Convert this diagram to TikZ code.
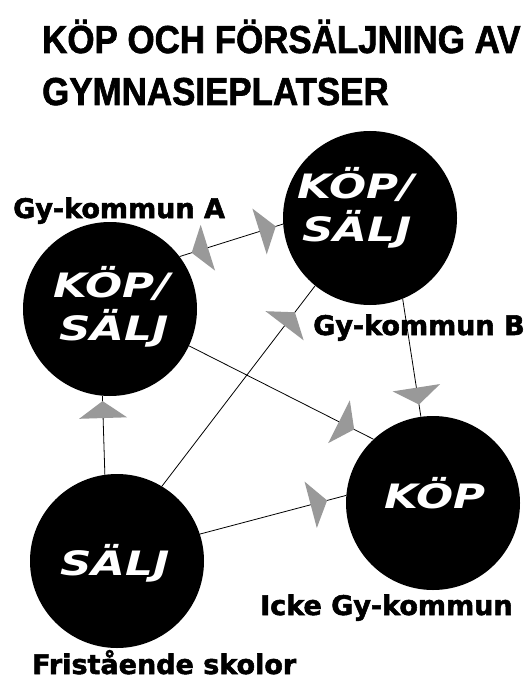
\documentclass[tikz,border=0pt]{standalone}
\usepackage{fontspec}
\usetikzlibrary{arrows.meta,decorations.markings}
\newfontfamily\titlefont{Liberation Sans}[FakeStretch=0.895,FakeBold=1.6]
\newfontfamily\labfont{DejaVu Sans}[FakeBold=2]
\newfontfamily\circfont{DejaVu Sans}[FakeStretch=1.3]
\definecolor{arrowgray}{RGB}{153,153,153}
\tikzset{
  tri/.tip={Triangle[length=17pt,width=48pt,color=arrowgray,line width=0pt]},
  blob/.style={circle,fill=black,draw=none,minimum size=174pt,inner sep=0pt},
  conn/.style={draw=black,line width=0.8pt},
  fwd/.style={postaction={decorate,decoration={markings,mark=at position #1 with {\arrow{tri}}}}},
  bwd/.style={postaction={decorate,decoration={markings,mark=at position #1 with {\arrowreversed{tri}}}}},
  titletxt/.style={anchor=base west,inner sep=0pt,font=\titlefont\bfseries\fontsize{39}{46}\selectfont},
  labtxt/.style={anchor=base west,inner sep=0pt,font=\labfont\bfseries\fontsize{27}{32}\selectfont},
  circtxt/.style={anchor=base,inner sep=0pt,text=white,font=\circfont\bfseries\itshape\fontsize{33.6}{40}\selectfont}
}
\begin{document}
\begin{tikzpicture}[x=1pt,y=-1pt]
\useasboundingbox (0,0) rectangle (531,679);
\fill[white] (0,0) rectangle (531,679);
% title
\node[titletxt] (t1) at (42,53) {KÖP OCH FÖRSÄLJNING AV};
\node[titletxt] (t2) at (42,105) {GYMNASIEPLATSER};
% circles
\node[blob] (A) at (110,309) {};
\node[blob] (B) at (370,218) {};
\node[blob] (C) at (433,503) {};
\node[blob] (D) at (117,561) {};
% connectors
\path[conn,fwd=0.93,bwd=0.116] (A.37.6) -- (B.184.6);
\path[conn,fwd=0.868] (D.59.1) -- (B.231.4);
\path[conn,fwd=0.895] (A.-25.4) -- (C.133.6);
\path[conn,fwd=0.897] (B.-68.1) -- (C.98.6);
\path[conn,fwd=0.934] (D.98.5) -- (A.265.5);
\path[conn,fwd=0.87] (D.18) -- (C.175.3);
% circle texts
\node[circtxt] (Ak) at (112,297) {KÖP/};
\node[circtxt] (As) at (114,340) {SÄLJ};
\node[circtxt] (Bk) at (356,198) {KÖP/};
\node[circtxt] (Bs) at (357,241) {SÄLJ};
\node[circtxt] (Ck) at (435,508) {KÖP};
\node[circtxt] (Ds) at (115,575) {SÄLJ};
% labels
\node[labtxt] (la) at (13,218) {Gy-kommun A};
\node[labtxt] (lb) at (313,335) {Gy-kommun B};
\node[labtxt] (lc) at (260,615) {Icke Gy-kommun};
\node[labtxt] (ld) at (32,674) {Fristående skolor};
\end{tikzpicture}
\end{document}
